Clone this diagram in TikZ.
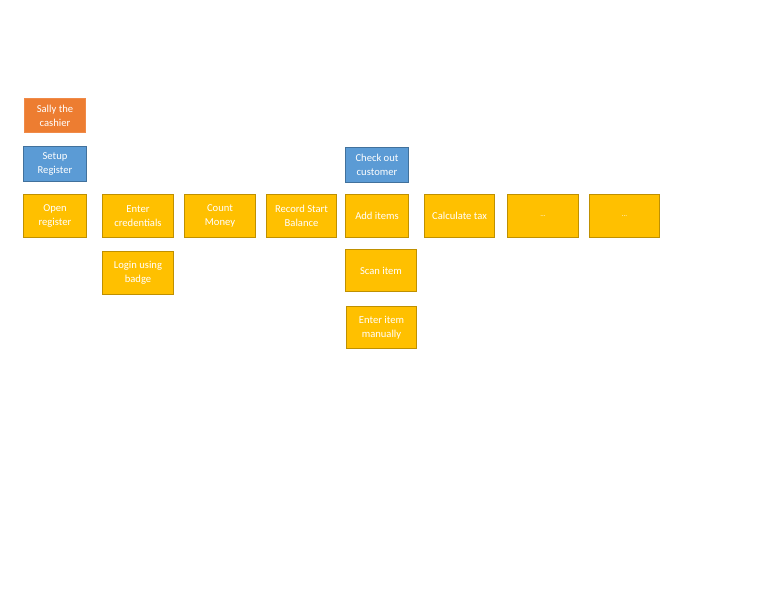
\documentclass[tikz,border=0pt]{standalone}
\usepackage{fontspec}
\setmainfont{Carlito}
\usetikzlibrary{%
    positioning
}
\definecolor{goldfill}{HTML}{FFC000}
\definecolor{golddraw}{HTML}{BF9000}
\definecolor{bluefill}{HTML}{5B9BD5}
\definecolor{bluedraw}{HTML}{41719C}
\definecolor{orangefill}{HTML}{ED7D31}
\definecolor{orangedraw}{HTML}{F08A48}
\tikzset{card/.style = {draw, line width=.75pt, outer sep=0pt, text=white, align=center,
                        inner sep=1pt, font=\fontsize{10.6}{14.2}\selectfont}}
\tikzset{persona/.style = {card, fill=orangefill, draw=orangedraw,
                           minimum width=61pt, minimum height=34pt}}
\tikzset{activity/.style = {card, fill=bluefill, draw=bluedraw,
                            minimum width=63pt, minimum height=35pt}}
\tikzset{task/.style = {card, fill=goldfill, draw=golddraw,
                        minimum width=71pt, minimum height=43pt}}

\begin{document}
\begin{tikzpicture}[x=1pt, y=-1pt]
    \useasboundingbox (0,0) rectangle (768,594);

    % persona and first activity
    \node[persona] (Sally) at (55,115.5) {Sally the\\cashier};
    \node[activity] (Setup) [below=14pt of Sally] {Setup\\Register};
    \node[task, minimum width=63pt] (Open) [below=13pt of Setup] {Open\\register};

    % task row
    \foreach \Prev/\Name/\Gap/\Width/\Text in {%
        Open/Cred/16/71/Enter\\credentials,
        Cred/Count/11/71/Count\\Money,
        Count/Record/11/70/Record Start\\Balance,
        Record/Add/9/63/Add items,
        Add/Tax/16/70/Calculate tax,
        Tax/DotsA/13/71/{\scriptsize\ldots},
        DotsA/DotsB/11/70/{\scriptsize\ldots}%
        }
        \node[task, minimum width=\Width pt] (\Name) [right=\Gap pt of \Prev] {\Text};

    % second activity
    \node[activity] (Checkout) [above=12pt of Add] {Check out\\customer};

    % sub tasks
    \node[task] (Badge) [below=14pt of Cred] {Login using\\badge};
    \node[task, minimum height=42pt] (Scan) [below=12pt of Add.south west, anchor=north west] {Scan item};
    \node[task, minimum width=70pt, minimum height=42pt] (Manual) [below=15pt of Scan.south east, anchor=north east] {Enter item\\manually};
\end{tikzpicture}
\end{document}
